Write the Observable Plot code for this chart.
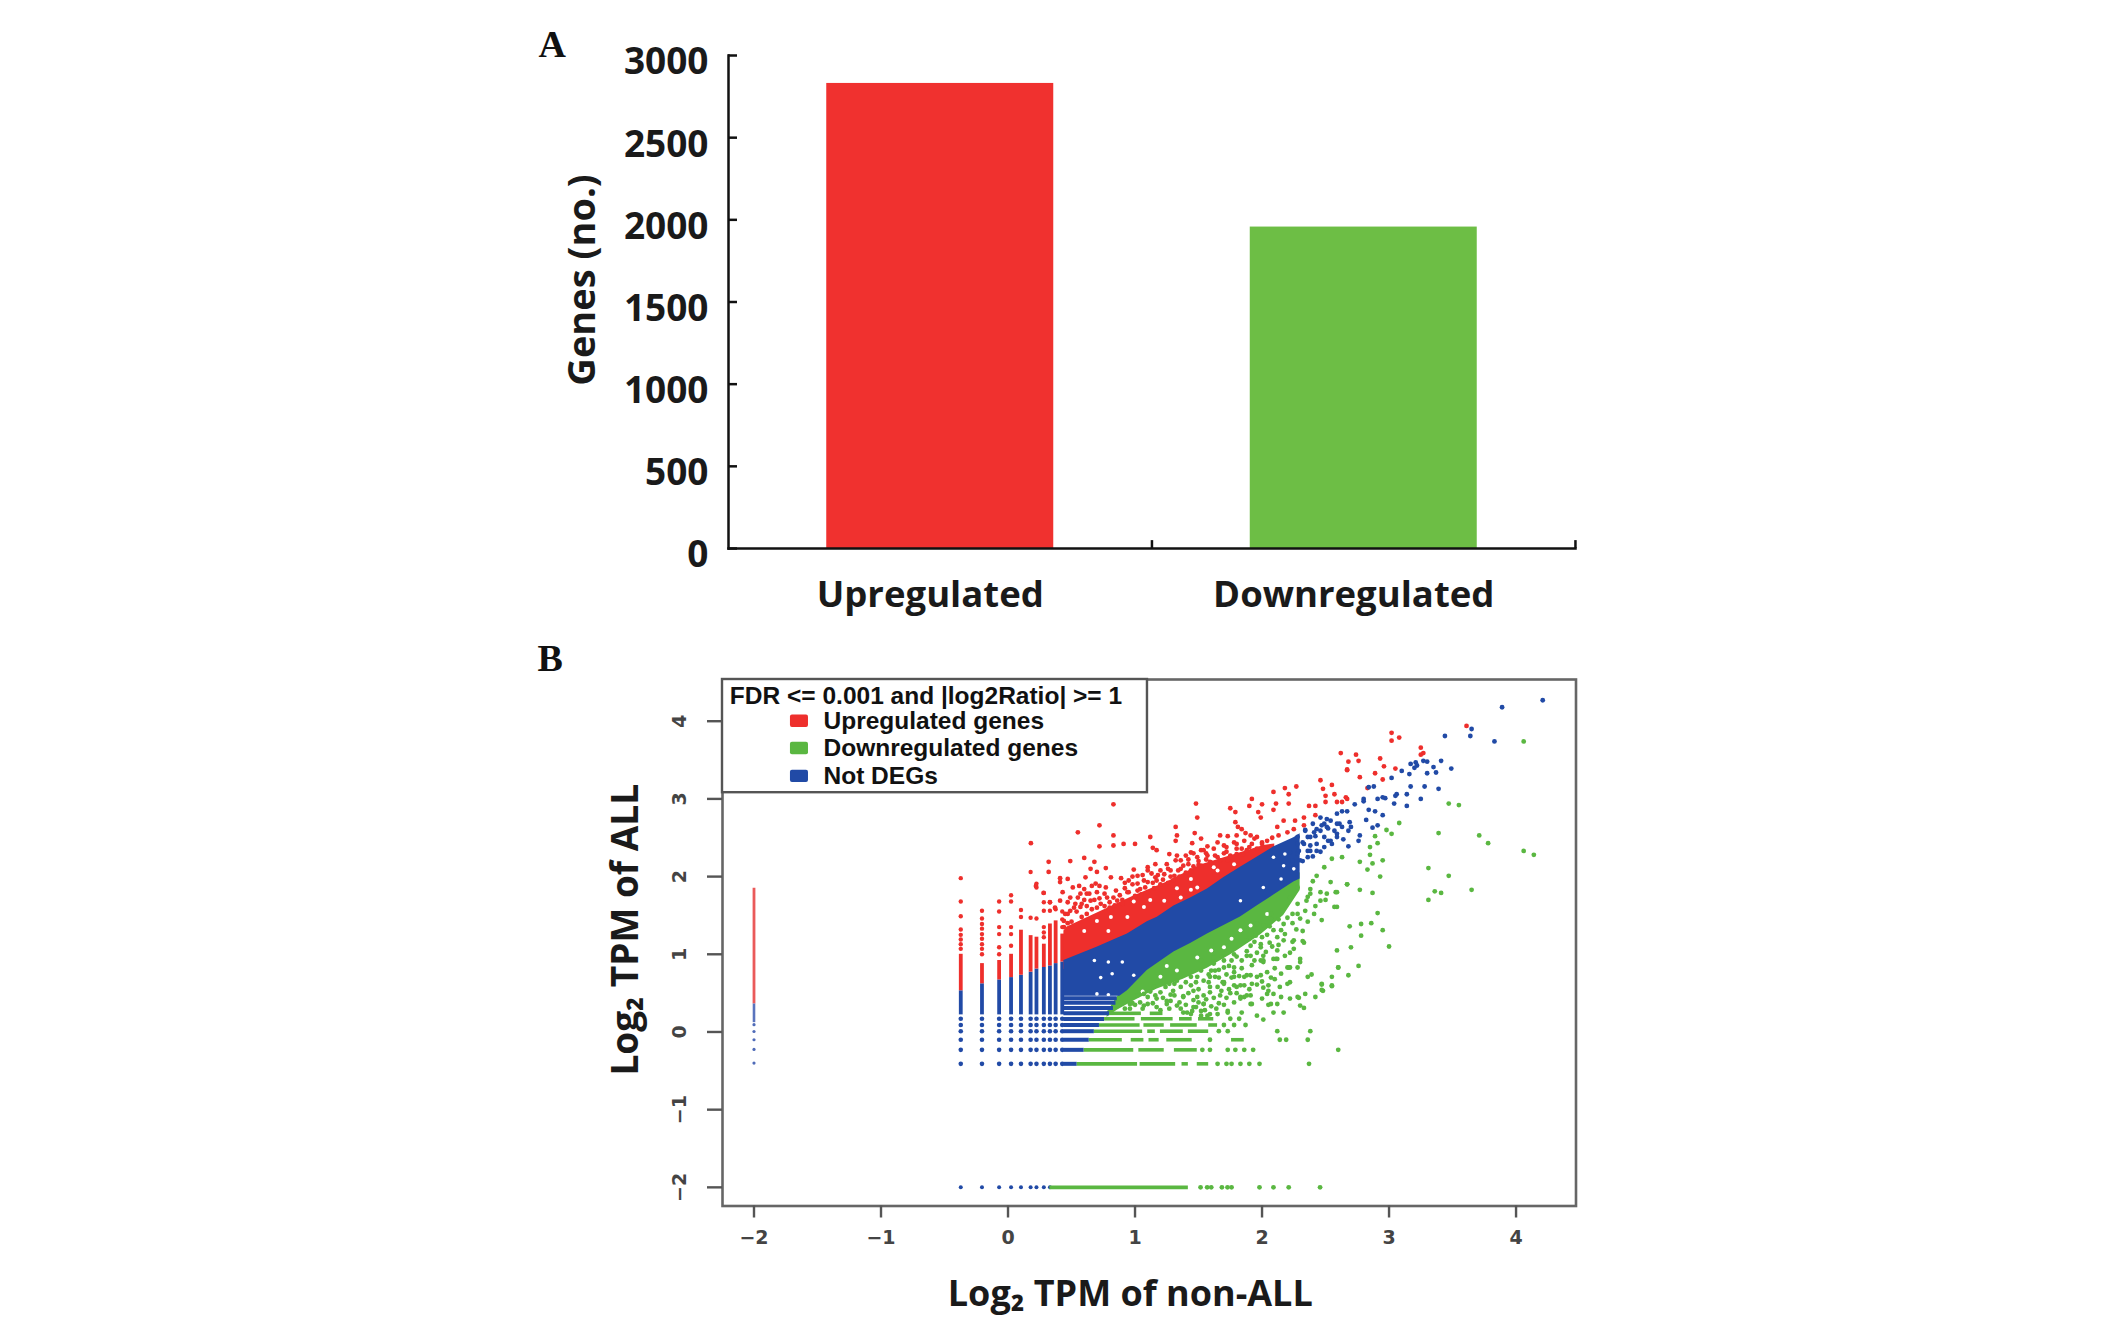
<!DOCTYPE html>
<html><head><meta charset="utf-8">
<script src="https://cdn.jsdelivr.net/npm/d3@7"></script>
<script src="https://cdn.jsdelivr.net/npm/@observablehq/plot@0.6"></script>
<style>html,body{margin:0;padding:0;background:#fff}svg{display:block}</style>
</head><body><div id="chart"></div>
<script>
// Panel A
const categories = ["Upregulated", "Downregulated"];
const geneCounts = [2830, 1956];
const barColors = ["#f0312f", "#6dbe45"];
const yTicksA = [0, 500, 1000, 1500, 2000, 2500, 3000];

// Panel B: colours and labels
const RED = "#ee2f2c", GREEN = "#5ab741", BLUE = "#214aa6";
const legendTitle = "FDR <= 0.001 and |log2Ratio| >= 1";
const legendLabels = ["Upregulated genes", "Downregulated genes", "Not DEGs"];
const legendColors = [RED, GREEN, BLUE];
const legendRowY = [4.0, 3.65, 3.29];
const xTicksB = [-2, -1, 0, 1, 2, 3, 4];
const yTicksB = [-2, -1, 0, 1, 2, 3, 4];

// quantised low-count values form a lattice of columns and rows
const colX = [-0.372, -0.205, -0.07, 0.024, 0.102, 0.178, 0.224, 0.282, 0.33, 0.375, 0.427];
const colBlueTop = [0.53, 0.62, 0.67, 0.70, 0.73, 0.77, 0.81, 0.83, 0.85, 0.88, 0.90];
const colRedTop = [1.0, 0.88, 0.92, 1.0, 1.31, 1.24, 1.22, 1.13, 1.39, 1.43, 1.26];
const latticeRowY = [-0.41, -0.23, -0.10, 0.01, 0.09, 0.17];
const rowY = [-0.41, -0.23, -0.10, 0.01, 0.09, 0.168, 0.24, 0.31, 0.375, 0.435];
const rowBlueEnd = [0.545, 0.60, 0.64, 0.68, 0.72, 0.76, 0.80, 0.83, 0.85, 0.86];

const col2Dots = [-0.40, -0.225, -0.10, 0.006, 0.094];

const redColDots = [[-0.372,1.07],[-0.372,1.13],[-0.372,1.19],[-0.372,1.25],[-0.372,1.32],[-0.372,1.49],[-0.372,1.68],[-0.372,1.98],
[-0.205,1.00],[-0.205,1.07],[-0.205,1.13],[-0.205,1.20],[-0.205,1.26],[-0.205,1.33],[-0.205,1.39],[-0.205,1.46],[-0.205,1.56],
[-0.07,1.0],[-0.07,1.09],[-0.07,1.26],[-0.07,1.35],[-0.07,1.55],[-0.07,1.68],
[0.024,1.11],[0.024,1.26],[0.024,1.35],[0.024,1.68],[0.024,1.76],
[0.102,1.48],[0.102,1.57],[0.178,1.47],[0.178,2.06],[0.224,1.46],[0.224,1.91],[0.224,1.86],
[0.282,1.22],[0.282,1.28],[0.282,1.35],[0.282,1.56],[0.282,1.67],[0.282,1.79],[0.33,1.56],[0.33,1.67],[0.375,1.58],[0.427,1.35],[0.427,1.45],[0.427,1.55]];

const redDots = [[0.83,2.93],[0.72,2.66],[0.55,2.57],[0.18,2.43],[0.83,2.53],[0.72,2.39],[0.60,2.24],[0.83,2.40],[0.91,2.42],[1.00,2.42],[1.12,2.51],[1.32,2.64],[1.33,2.53],[1.32,2.46],[1.48,2.94],[1.49,2.76],[1.47,2.56],[1.45,2.43],[1.52,2.49],[1.75,2.88],[1.79,2.83],[1.90,2.91],[1.92,3.00],[2.00,2.93],[1.97,2.83],[2.09,3.09],[2.18,3.14],[2.27,3.16],[2.21,3.06],[2.21,2.94],[2.11,2.94],[2.09,2.86],[1.99,2.76],[1.79,2.70],[1.81,2.64],[1.84,2.61],[1.87,2.56],[1.80,2.53],[1.67,2.53],[1.73,2.52],[1.91,2.53],[1.96,2.51],[1.65,2.44],[1.57,2.39],[1.52,2.34],[1.44,2.31],[1.33,2.27],[1.27,2.29],[1.17,2.34],[1.14,2.37],[0.32,2.19],[0.32,2.06],[0.49,2.20],[0.68,2.19],[0.65,2.10],[0.77,2.11],[0.70,2.06],[0.61,1.99],[0.81,1.99],[0.89,1.98],[0.99,2.09],[1.10,2.12],[1.16,2.16],[0.41,1.98],[0.41,1.93],[0.47,1.97],[0.22,1.88],[0.28,1.79],[0.33,1.67],[0.37,1.60],[0.41,1.69],[0.47,1.67],[0.51,1.86],[0.56,1.88],[0.60,1.84],[0.66,1.88],[0.77,1.86],[0.85,1.82],[0.55,1.73],[0.62,1.78],[0.70,1.80],[0.78,1.73],[0.86,1.69],[0.95,1.95],[1.02,1.91],[1.07,1.95],[1.16,1.99],[1.23,2.03],[1.28,2.08],[1.36,2.21],[1.42,2.16],[1.49,2.25],[1.57,2.27],[1.65,2.25],[1.73,2.21],[1.80,2.29],[1.88,2.34],[1.96,2.36],[2.04,2.46],[2.13,2.53],[2.20,2.57],[2.26,2.72],[2.33,2.76],[2.37,2.91],[2.42,2.91],[2.46,3.24],[2.55,3.18],[2.48,3.13],[2.50,3.04],[2.57,3.06],[2.50,2.96],[2.59,2.96],[2.42,2.79],[2.12,2.64],[2.17,2.72],[2.25,2.61],[2.33,2.66],[2.67,3.37],[2.66,3.02],
[3.02,3.85],[3.02,3.75],[3.08,3.79],[3.25,3.66],[3.25,3.57],[3.27,3.59],[3.61,3.94],[2.62,3.59],[2.74,3.57],[2.76,3.49],[2.68,3.48],[2.67,3.38],[2.93,3.52],[2.96,3.42],[3.05,3.39],[2.89,3.33],[2.95,3.25],[2.77,3.28],[2.83,3.14],[2.67,3.00],[2.63,2.96],
[0.52,1.60],[0.70,1.60],[0.80,1.60],[0.90,1.70],[0.95,1.80],[1.00,1.75],[1.05,1.77],[1.10,1.80],[1.15,1.85],[1.20,1.90],[1.30,1.95],[1.35,2.00],[1.40,2.05],[1.50,2.15],[0.47,1.40],[0.47,1.52],[0.58,1.65],[0.68,1.70],[1.02,1.82],[1.26,1.92],[1.44,2.08],[1.60,2.18],[1.70,2.30],[1.85,2.28],[2.00,2.42],[2.08,2.50],
[0.49,1.56],[0.57,1.61],[0.65,1.69],[0.73,1.65],[0.57,1.78],[0.69,1.91],[0.83,1.73],[0.90,1.65],[0.94,1.80],[1.02,2.01],[1.10,1.93],[1.17,1.95],[1.20,2.08],[1.31,2.01],[1.36,2.10],[1.44,2.06],[1.52,2.14],[1.59,2.19],[1.67,2.21],[1.75,2.27],[1.84,2.36],[1.92,2.42],[2.00,2.44],[1.10,2.08],[1.25,2.16],[1.32,2.21],[1.40,2.27],[1.54,2.34],[1.62,2.36],[1.70,2.40],[1.78,2.44],[1.86,2.46],[1.94,2.49],[0.49,1.73],[0.43,1.80],[0.53,1.65],[0.62,1.52],[0.44,1.43],[0.45,1.52],[0.44,1.35],
[0.50,1.42],[0.54,1.55],[0.58,1.48],[0.62,1.62],[0.66,1.58],[0.72,1.72],[0.76,1.62],[0.80,1.67],[0.84,1.63],[0.88,1.76],[0.92,1.85],[0.98,1.90],[1.04,1.84],[1.08,1.86],[1.14,1.92],[1.18,2.02],[1.22,1.96],[1.28,2.00],[1.34,2.08],[1.38,2.14],[1.46,2.13],[1.50,2.20],[1.56,2.22],[1.63,2.27],[1.72,2.32],[1.80,2.36],[1.90,2.38],[1.06,2.02],[1.13,2.04],[0.76,1.78],[0.72,1.88],[0.64,1.78],[0.60,1.70],[0.92,1.92],[0.98,2.00],[1.26,2.10],[1.42,2.22],[1.46,2.30],[1.56,2.30],[1.72,2.38],[1.80,2.42]];

const blueDots = [[4.21,4.27],[3.89,4.18],[3.65,3.90],[3.64,3.81],[3.83,3.74],[3.44,3.81],[3.49,3.39],[3.41,3.49],[3.27,3.49],[3.30,3.48],[3.21,3.47],[3.17,3.45],[3.22,3.43],[3.10,3.36],[3.16,3.32],[3.20,3.40],[3.02,3.27],[3.35,3.41],[3.37,3.34],[3.30,3.33],[3.39,3.13],[3.28,3.16],[3.17,3.16],[3.14,3.06],[3.06,3.06],[3.05,3.04],[3.25,3.00],[3.14,2.91],[3.04,2.94],[2.95,3.02],[2.97,3.01],[2.91,3.00],[2.80,3.00],[2.80,2.97],[2.73,2.93],[2.84,2.86],[2.89,2.84],[2.95,2.79],[2.91,2.66],[2.87,2.63],[2.82,2.73],[2.77,2.53],[2.76,2.46],[2.68,2.39],[2.67,2.84],[2.63,2.84],[2.59,2.81],[2.69,2.70],[2.70,2.64],[2.68,2.59],[2.64,2.48],[2.88,3.16],[2.84,3.15],[2.54,2.72],[2.49,2.68],[2.43,2.61],[2.36,2.51],[2.28,2.42],[2.22,2.31],[2.49,2.51],[2.57,2.59],[2.43,2.42],[2.36,2.33],[2.30,2.21],[2.25,2.12],[2.59,2.51],[2.55,2.42],[2.46,2.76],[2.40,2.68],[2.34,2.60],[2.52,2.62],[2.61,2.68],[2.46,2.32],[2.52,2.46],[2.32,2.44],[2.38,2.40],[2.42,2.52],[2.28,2.30],[2.32,2.20],[2.40,2.26],
[2.33,2.42],[2.38,2.51],[2.46,2.59],[2.51,2.64],[2.38,2.33],[2.43,2.33],[2.49,2.38],[2.54,2.46],[2.59,2.55],[2.63,2.64],[2.59,2.68],[2.51,2.74],[2.47,2.66],[2.41,2.57],[2.34,2.59],[2.28,2.51],[2.36,2.25],[2.29,2.33],[2.24,2.21]];

const greenDots = [[4.06,3.74],[3.47,2.94],[3.55,2.92],[3.39,2.56],[3.71,2.53],[3.78,2.43],[4.06,2.33],[4.14,2.28],[3.31,1.70],[3.36,1.81],[3.41,1.79],[3.65,1.83],[3.47,2.01],[3.31,2.11],[3.08,2.69],[2.98,2.60],[3.02,2.55],[2.89,2.52],[2.91,2.43],[2.85,2.38],[2.85,2.28],[2.95,2.21],[2.87,2.17],[2.77,2.19],[2.83,2.09],[2.93,2.00],[2.77,1.83],[2.87,1.79],[2.91,1.53],[2.86,1.40],[2.78,1.39],[2.69,1.36],[2.95,1.31],[2.78,1.24],[3.00,1.10],[2.70,1.09],[2.59,1.05],[2.76,0.85],[2.60,0.83],[2.68,0.73],[2.55,0.71],[2.55,0.60],[2.47,0.62],[2.48,0.53],[2.42,0.45],[2.34,0.49],[2.30,0.34],
[2.63,2.25],[2.55,2.23],[2.49,2.12],[2.43,2.01],[2.54,1.93],[2.67,1.90],[2.58,1.80],[2.46,1.80],[2.59,1.61],[2.47,1.44],[2.38,1.78],[2.35,1.69],[2.28,1.52],[2.17,1.39],[2.25,1.18],[2.33,1.15],[2.25,1.07],[2.12,0.94],[2.21,0.83],[2.30,0.90],[2.36,0.71],[2.22,0.64],[2.07,0.70],[2.01,0.92],[1.88,0.73],[1.99,1.09],[1.91,1.11],[1.78,1.00],[1.78,0.77],[1.69,0.64],[1.83,0.45],[2.01,0.57],[2.12,0.36],[1.91,0.36],[2.07,1.52],[1.96,1.39],[1.80,1.22],[2.22,1.73],[2.28,1.86],
[2.15,1.31],[2.24,1.16],[2.32,1.17],[2.12,1.05],[2.30,0.94],[2.11,0.94],[2.01,0.98],[2.01,0.90],[1.91,0.98],[1.80,0.97],[1.96,0.71],[2.04,0.77],[2.15,0.75],[2.22,0.83],[2.28,0.83],[2.39,0.74],[2.60,0.83],[2.55,0.59],[2.47,0.61],[2.47,0.54],[2.29,0.44],[2.22,0.43],[2.33,0.31],[2.17,0.25],[2.09,0.25],[2.01,0.16],[1.96,0.21],[2.05,0.35],[2.15,0.45],[2.09,0.49],[2.04,0.49],[2.00,0.43],[1.92,0.36],[2.05,0.60],[1.96,0.61],[1.88,0.47],[1.83,0.43],[1.80,0.58],[1.86,0.60],[1.70,0.64],[1.63,0.71],[1.78,0.71],[1.67,0.47],[1.59,0.51],[1.54,0.36],[1.70,0.35],[1.73,0.27],[1.84,0.25],[1.48,0.32],[1.57,0.21],[1.41,0.25],[1.33,0.34],[1.25,0.36],[1.17,0.32],[1.10,0.36],[1.02,0.47],[1.20,0.51],[1.36,0.58],[1.46,0.53],[1.54,0.66],[1.44,0.71],[1.62,0.88],[1.70,0.92],[1.52,0.79],[1.31,0.62],[1.15,0.58],[1.90,1.20],[2.00,1.22],[2.08,1.10],[2.18,1.26],[2.06,1.36],[2.36,1.42],[2.42,1.62],[2.50,1.70],[2.40,1.94],[1.72,1.02],[1.66,0.80],[1.58,0.74],[1.38,0.46],[1.28,0.48],[1.06,0.30],[0.96,0.30],
[1.33,0.66],[1.25,0.40],[1.38,0.45],[1.49,0.45],[1.54,0.47],[1.59,0.58],[1.65,0.58],[1.70,0.62],[1.78,0.60],[1.83,0.60],[1.86,0.45],[1.91,0.47],[1.86,0.71],[1.91,0.73],[1.99,0.73],[1.78,0.83],[1.88,0.98],[1.99,0.92],[2.09,0.94],[2.20,0.83],[2.20,0.62],[2.28,0.45],[2.07,0.36],[1.73,0.25],[1.52,0.21],[1.59,0.23],[1.65,0.23],[1.38,0.25],[1.44,0.23],[1.20,0.28],[1.07,0.34],[0.96,0.36],[0.86,0.34],[1.31,0.47],[1.17,0.43],[1.07,0.49],[1.46,0.32],[1.54,0.36],[1.63,0.79],[1.70,0.83],[1.76,0.92],[1.62,0.96],[1.52,0.92],[1.49,0.71],[1.59,0.71],[1.88,1.18],[1.99,1.13],[1.95,1.24],[2.12,1.22],[2.17,1.18],[2.24,1.52],[2.30,1.46],[2.41,1.52],[2.28,1.65],[2.36,1.74],[2.46,1.69],[2.57,1.61],[2.07,1.46],[2.16,1.56],[2.01,1.37],[2.09,1.31],[2.38,1.84],[2.51,1.78],[2.59,1.80],[2.67,1.90],
[0.92,0.30],[0.98,0.37],[1.04,0.38],[1.10,0.45],[1.14,0.37],[1.22,0.44],[1.27,0.30],[1.30,0.53],[1.35,0.38],[1.40,0.35],[1.42,0.50],[1.44,0.60],[1.50,0.55],[1.52,0.27],[1.56,0.42],[1.60,0.33],[1.62,0.44],[1.66,0.37],[1.68,0.53],[1.72,0.44],[1.74,0.55],[1.76,0.70],[1.80,0.50],[1.82,0.72],[1.84,0.82],[1.92,0.86],[1.94,0.92],[1.96,1.02],[2.03,1.03],[2.06,1.15],[2.10,0.82],[2.13,1.12],[2.18,0.98],[2.22,1.02],[2.27,1.32],[2.32,1.30],[2.34,1.56],[2.24,1.40],[2.20,1.47],[2.13,1.45],[1.12,0.52],[1.24,0.58],[1.27,0.62],[1.40,0.64],[1.48,0.64],[1.58,0.64],[1.66,0.70],[1.72,0.74],[1.84,0.92],[1.88,1.04],[1.94,1.16],[2.04,1.25],[1.00,0.35],[1.16,0.47],[1.28,0.40],[1.36,0.30],[1.46,0.41],[1.60,0.79],[1.74,0.85],[1.68,0.97],[1.50,0.38],[1.45,0.27],[1.55,0.28],[1.64,0.30],[1.78,0.38],[1.90,0.55],[2.00,0.65],[2.10,0.68],[2.14,0.58],[2.05,0.53],[1.92,0.62],[1.75,0.50],
[1.65,-0.41],[1.72,-0.41],[1.76,-0.41],[1.83,-0.41],[1.90,-0.41],[1.98,-0.41],[2.37,-0.41],
[1.53,-0.23],[1.59,-0.23],[1.73,-0.23],[1.79,-0.23],[1.86,-0.23],[1.93,-0.23],[2.60,-0.23],
[1.59,-0.10],[2.14,-0.10],[2.19,-0.10],[2.36,-0.10],
[1.66,0.01],[1.73,0.01],[2.12,0.01],[2.38,0.01],
[1.70,0.09],[1.78,0.09],[1.87,0.09],[1.75,0.17],[1.82,0.17],
[1.516,-2],[1.568,-2],[1.60,-2],[1.684,-2],[1.728,-2],[1.76,-2],[1.98,-2],[2.09,-2],[2.21,-2],[2.457,-2]];

// [row y, start x, end x] of the green runs along the quantised rows
const greenRuns = [[-0.41,0.545,1.02],[-0.41,1.04,1.32],[-0.41,1.37,1.42],[-0.41,1.49,1.58],
[-0.23,0.60,0.99],[-0.23,1.03,1.23],[-0.23,1.31,1.49],
[-0.10,0.64,0.90],[-0.10,0.97,1.07],[-0.10,1.11,1.19],[-0.10,1.25,1.45],[-0.10,1.76,1.86],
[0.01,0.68,1.06],[0.01,1.10,1.16],[0.01,1.20,1.38],[0.01,1.42,1.58],
[0.09,0.72,1.04],[0.09,1.07,1.23],[0.09,1.28,1.49],[0.09,1.58,1.65],
[0.17,0.76,1.00],[0.17,1.05,1.30],[0.17,1.35,1.45],[0.17,1.50,1.62],
[0.24,0.80,1.05],[0.24,1.12,1.22],[-2,0.33,1.42]];

// boundaries of the solid clouds: [x, lower y, upper y]
const blueBand = [[0.44,0.46,0.92],[0.70,0.46,1.09],[0.88,0.46,1.22],[0.94,0.53,1.26],[1.096,0.79,1.42],[1.175,0.88,1.477],[1.306,1.03,1.62],[1.437,1.14,1.726],[1.57,1.26,1.84],[1.70,1.37,1.99],[1.83,1.48,2.12],[1.96,1.62,2.25],[2.09,1.76,2.38],[2.25,1.93,2.50],[2.30,1.97,2.55]];
const redBand = [[0.44,0.80,1.30],[0.466,0.85,1.35],[0.728,1.00,1.55],[0.99,1.20,1.75],[1.253,1.45,1.93],[1.516,1.70,2.15],[1.778,1.97,2.28],[2.014,2.20,2.40],[2.10,2.30,2.42]];
const greenBand = [[0.78,0.19,0.25],[0.86,0.28,0.45],[0.99,0.40,0.72],[1.17,0.55,0.98],[1.38,0.68,1.19],[1.57,0.82,1.36],[1.78,1.02,1.54],[1.99,1.25,1.75],[2.17,1.50,1.95],[2.30,1.82,2.05]];

// spots the clouds leave uncovered
const redGaps = [[0.53,1.48],[0.60,1.30],[0.70,1.43],[0.81,1.48],[0.79,1.30],[0.94,1.48],[1.07,1.61],[0.99,1.68],[1.12,1.70],[1.23,1.69],[1.33,1.85],[1.44,1.97],[1.36,1.73],[1.49,1.86],[1.65,2.08],[1.78,2.16],[1.62,2.12],[1.44,1.83]];
const greenGaps = [[1.20,0.71],[1.33,0.79],[1.49,0.96],[1.70,1.09],[1.83,1.31],[1.91,1.37],[2.04,1.52],[1.06,0.52],[1.25,0.85],[1.60,1.05],[1.76,1.20]];
const blueGaps = [[2.17,2.14],[2.25,2.10],[2.18,2.29],[2.09,2.25],[2.01,1.86],[1.83,1.69],[2.15,1.97],[0.79,0.90],[0.82,0.75],[0.73,0.70],[0.90,0.90],[0.99,0.73],[0.68,0.92],[0.70,0.49],[0.79,0.48]];

// Layout constants in data units for the legend box
const legendBox = {x1: -2.248, x2: 1.098, y1: 3.08, y2: 4.537};
const swatch = {x1: -1.713, x2: -1.571, half: 0.08};
const legendTextX = -1.453, legendTitleX = -2.19, legendTitleY = 4.32;

const panelA = Plot.plot({
  width: 2126, height: 640,
  marginTop: 55, marginBottom: 92, marginLeft: 728, marginRight: 551,
  x: {domain: categories, paddingInner: 0.464, paddingOuter: 0.232, round: false, label: null},
  y: {domain: [0, 3000], label: null},
  style: {background: "#fff", overflow: "visible"},
  marks: [
    Plot.barY(categories, {x: d => d, y: (d, i) => geneCounts[i], fill: (d, i) => barColors[i]}),
    Plot.frame({anchor: "left", stroke: "#111", strokeWidth: 2.5}),
    Plot.frame({anchor: "bottom", stroke: "#111", strokeWidth: 2.5}),
    Plot.ruleY(yTicksA, {y: d => d, insetRight: 838, stroke: "#111", strokeWidth: 2.5}),
    Plot.axisY({ticks: yTicksA, tickSize: 0, tickPadding: 20, tickFormat: d => String(d), dy: 7, label: null,
      fontFamily: "Open Sans", fontWeight: 700, fontSize: 37, fill: "#1a1a1a"}),
    Plot.ruleX(categories, {x: d => d, y1: 0, y2: 48, dx: 211.7, stroke: "#111", strokeWidth: 2.5}),
    Plot.axisX({tickSize: 0, tickPadding: 33, dx: -10, label: null, fontFamily: "Open Sans", fontWeight: 700, fontSize: 36.5, fill: "#1a1a1a"}),
    Plot.text(["Genes (no.)"], {frameAnchor: "left", textAnchor: "middle", rotate: -90, dx: -146, dy: -22, fontFamily: "Open Sans", fontWeight: 700, fontSize: 38, fill: "#1a1a1a"}),
    Plot.text(["A"], {frameAnchor: "top-left", dx: -190, dy: -25, fontFamily: "Liberation Serif", fontWeight: 700, fontSize: 38, fill: "#111", lineAnchor: "top"})
  ]
});

const dotsOf = (list, fill, r) => Plot.dot(list, {x: d => d[0], y: d => d[1], r, fill});
const lattice = colX.flatMap((x) => latticeRowY.map((y) => [x, y]));
const bottomRow = colX.slice(0, 9).map((x) => [x, -2]);

const panelB = Plot.plot({
  width: 2126, height: 687,
  marginTop: 39, marginBottom: 121.5, marginLeft: 722, marginRight: 550.5,
  x: {domain: [-2.248, 4.472], label: null},
  y: {domain: [-2.24, 4.537], label: null},
  style: {background: "#fff", overflow: "visible"},
  marks: [
    // lattice columns
    Plot.ruleX(colX, {x: d => d, y1: 0.22, y2: (d, i) => colBlueTop[i], stroke: BLUE, strokeWidth: 3.8}),
    Plot.ruleX(colX, {x: d => d, y1: (d, i) => colBlueTop[i], y2: (d, i) => colRedTop[i], stroke: RED, strokeWidth: 3.8}),
    dotsOf(lattice, BLUE, 2.3),
    dotsOf(bottomRow, BLUE, 2.0),
    dotsOf(redColDots, RED, 2.2),
    // the x = -2 column
    Plot.ruleX([-2], {y1: 0.36, y2: 1.85, stroke: "#ea5a5a", strokeWidth: 2.8}),
    Plot.ruleX([-2], {y1: 0.12, y2: 0.36, stroke: "#5a74bd", strokeWidth: 2.6}),
    dotsOf(col2Dots.map((y) => [-2, y]), "#4f6bb8", 1.6),
    // solid clouds
    Plot.areaY(greenBand, {x: d => d[0], y1: d => d[1], y2: d => d[2], fill: GREEN}),
    Plot.areaY(redBand, {x: d => d[0], y1: d => d[1], y2: d => d[2], fill: RED}),
    dotsOf(redGaps, "#fff", 2),
    dotsOf(greenGaps, "#fff", 2),
    dotsOf(redDots, RED, 2.4),
    dotsOf(greenDots, GREEN, 2.4),
    Plot.areaY(blueBand, {x: d => d[0], y1: d => d[1], y2: d => d[2], fill: BLUE}),
    dotsOf(blueDots, BLUE, 2.4),
    dotsOf(blueGaps, "#fff", 1.8),
    // quantised rows
    Plot.ruleY(rowY, {y: d => d, x1: 0.44, x2: (d, i) => rowBlueEnd[i], stroke: BLUE, strokeWidth: 4}),
    Plot.ruleY(greenRuns, {y: d => d[0], x1: d => d[1], x2: d => d[2], stroke: GREEN, strokeWidth: 3.6}),
    // frame and axes
    Plot.frame({stroke: "#666", strokeWidth: 2.6}),
    Plot.axisX({ticks: xTicksB, tickSize: 12, tickPadding: 12, label: null, tickFormat: d => String(d).replace("-", "\u2212"),
      fontFamily: "DejaVu Sans", fontWeight: 700, fontSize: 19, fill: "#444", stroke: "#555", strokeWidth: 2.4}),
    Plot.axisY({ticks: yTicksB, tickSize: 15, tickPadding: 22, tickRotate: -90, label: null, tickFormat: d => String(d).replace("-", "\u2212"),
      fontFamily: "DejaVu Sans", fontWeight: 700, fontSize: 19, fill: "#444", stroke: "#555", strokeWidth: 2.4}),
    // legend
    Plot.rect([legendBox], {x1: "x1", x2: "x2", y1: "y1", y2: "y2", fill: "#fff", stroke: "#555", strokeWidth: 2.4}),
    Plot.text([legendTitle], {x: legendTitleX, y: legendTitleY, textAnchor: "start", fontFamily: "Liberation Sans", fontWeight: 700, fontSize: 24.5, fill: "#111"}),
    Plot.rect(legendLabels, {x1: swatch.x1, x2: swatch.x2, y1: (d, i) => legendRowY[i] - swatch.half, y2: (d, i) => legendRowY[i] + swatch.half, fill: (d, i) => legendColors[i], rx: 2}),
    Plot.text(legendLabels, {x: legendTextX, y: (d, i) => legendRowY[i], text: d => d, textAnchor: "start", fontFamily: "Liberation Sans", fontWeight: 700, fontSize: 24.5, fill: "#111"}),
    // titles
    Plot.text(["Log\u2082 TPM of non-ALL"], {frameAnchor: "bottom", textAnchor: "middle", dy: 100, dx: -19, fontFamily: "Open Sans", fontWeight: 700, fontSize: 36, fill: "#1a1a1a"}),
    Plot.text(["Log\u2082 TPM of ALL"], {frameAnchor: "left", textAnchor: "middle", rotate: -90, dx: -96, dy: -13, fontFamily: "Open Sans", fontWeight: 700, fontSize: 37, fill: "#1a1a1a"}),
    Plot.text(["B"], {frameAnchor: "top-left", dx: -185, dy: -21, fontFamily: "Liberation Serif", fontWeight: 700, fontSize: 38, fill: "#111", lineAnchor: "middle"})
  ]
});

const root = document.getElementById("chart");
root.append(panelA, panelB);
</script></body></html>
